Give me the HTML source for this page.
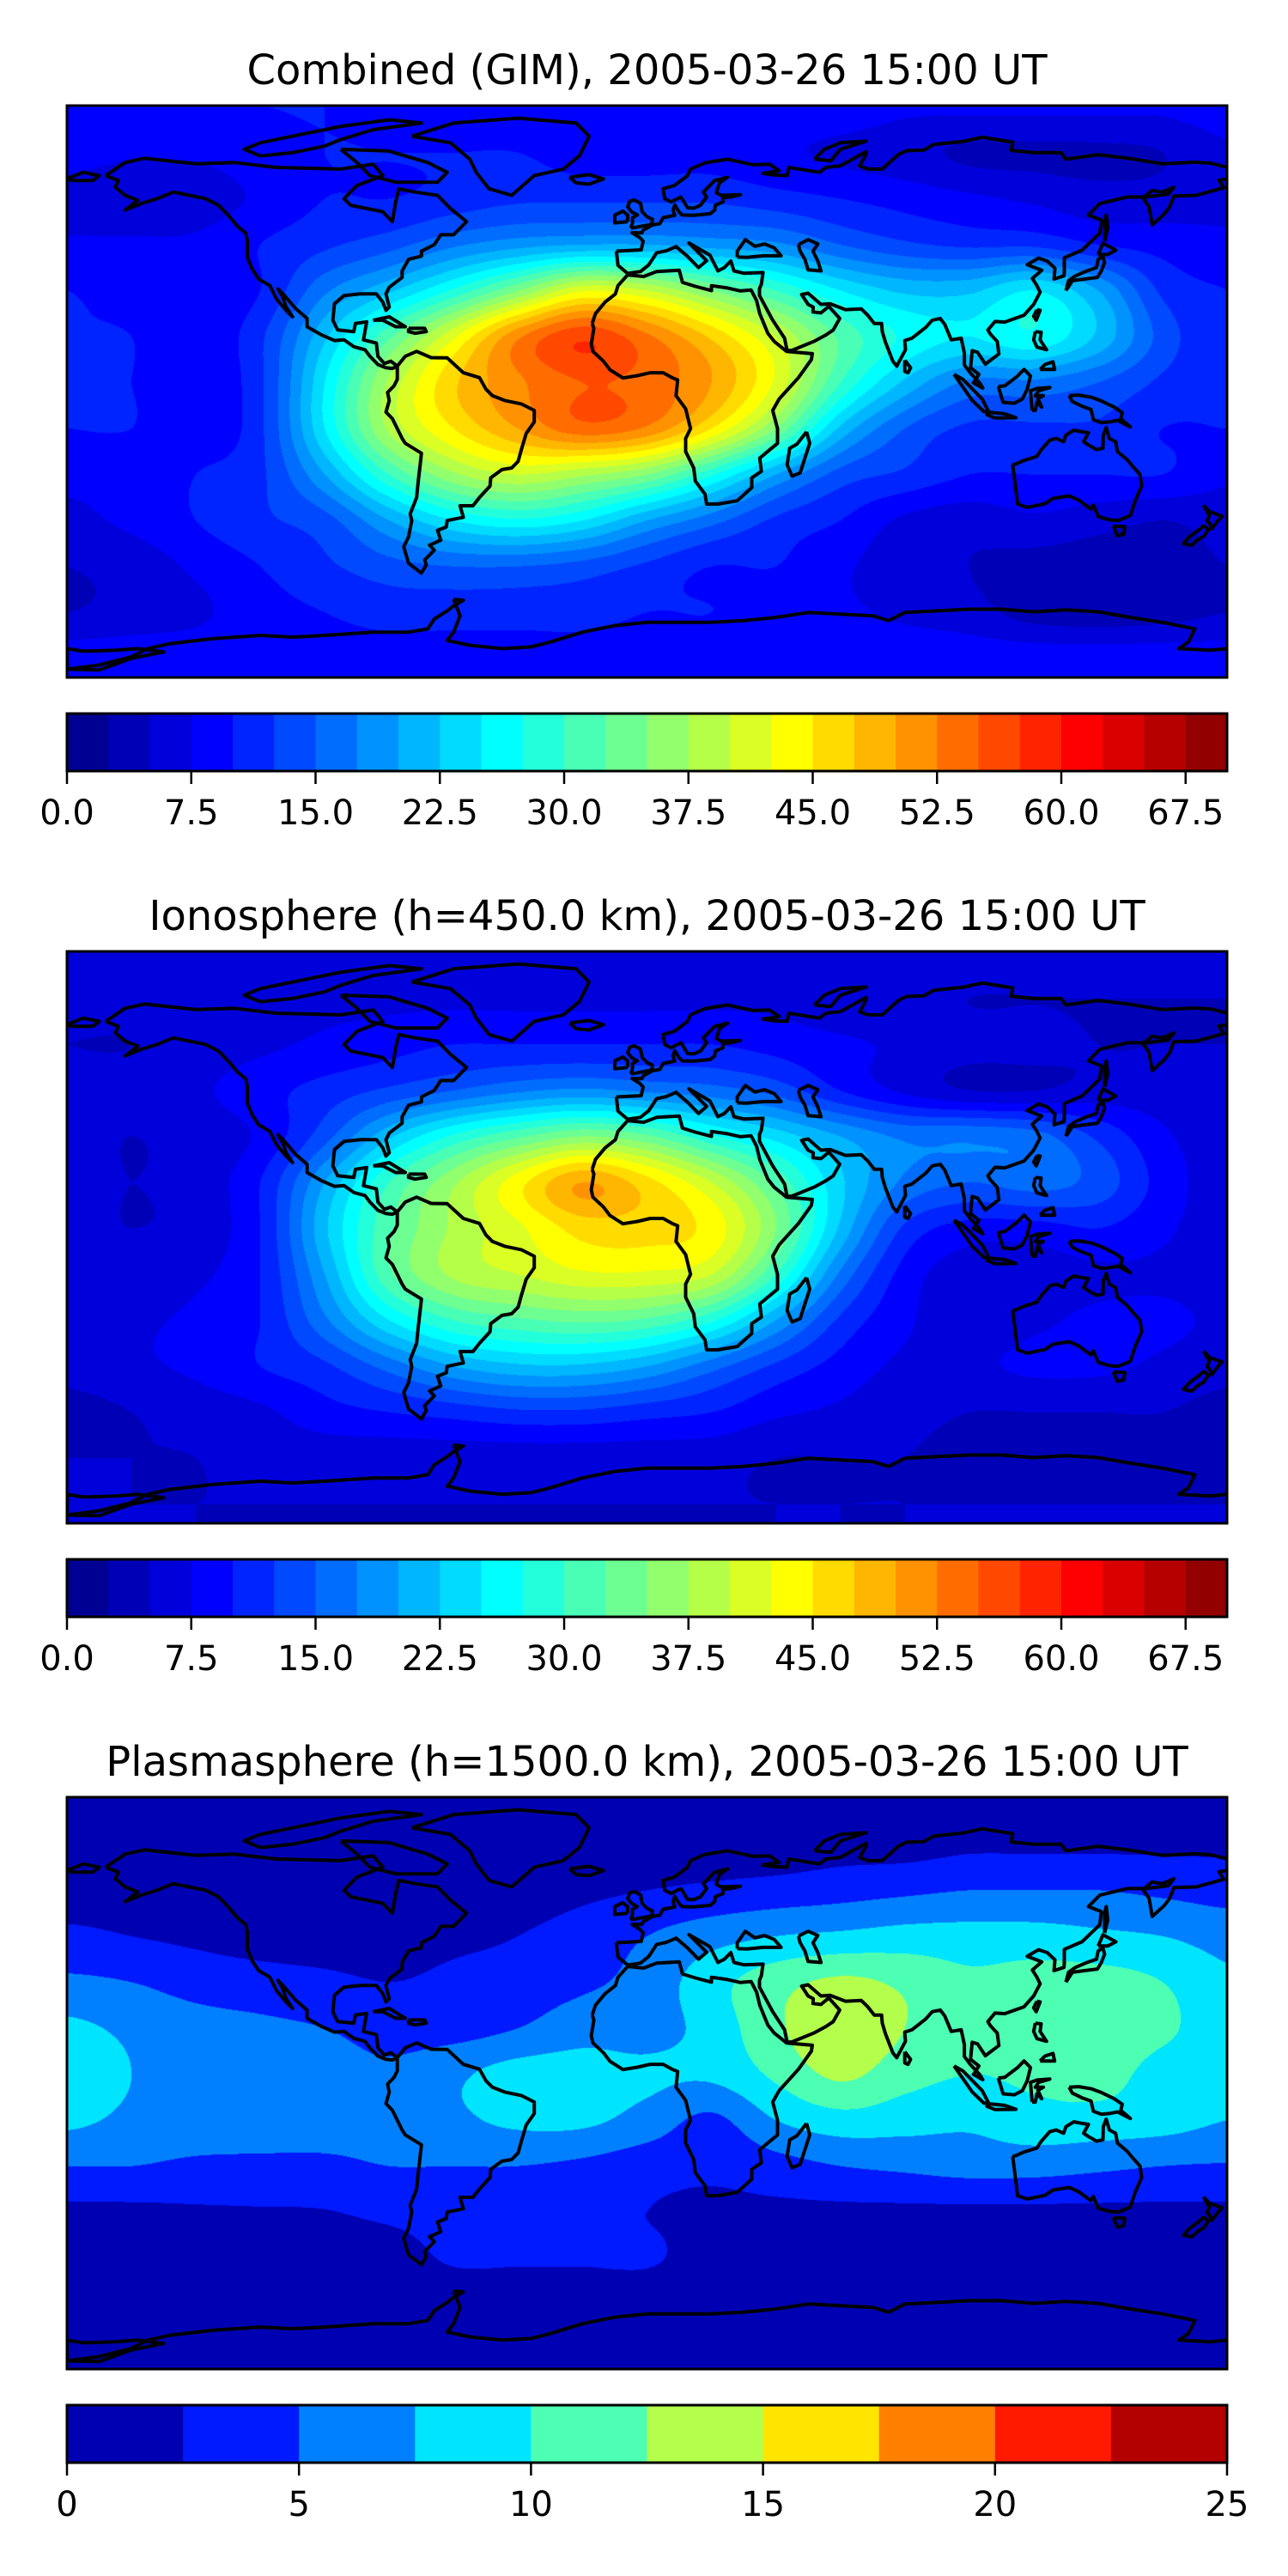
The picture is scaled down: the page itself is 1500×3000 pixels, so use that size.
<!DOCTYPE html>
<html><head><meta charset="utf-8"><title>GIM maps</title>
<style>
html,body{margin:0;padding:0;background:#fff;}
body{width:1500px;height:3000px;position:relative;overflow:hidden;font-family:"DejaVu Sans","Liberation Sans",sans-serif;}
canvas{position:absolute;left:78px;width:1351px;height:666px;}
svg{position:absolute;left:0;top:0;}
</style></head>
<body>
<canvas id="c0" width="1351" height="666" style="top:123px"></canvas>
<canvas id="c1" width="1351" height="666" style="top:1108px"></canvas>
<canvas id="c2" width="1351" height="666" style="top:2093px"></canvas>
<svg id="ov" width="1500" height="3000" viewBox="0 0 1500 3000"></svg>
<script>
// ---- data ----
const gridLons = [-180,-160,-140,-120,-100,-80,-60,-40,-20,0,20,40,60,80,100,120,140,160,180];
const gridLats = [87,73,59,45,31,17,3,-11,-25,-39,-53,-67,-81];
const titles = ["Combined (GIM), 2005-03-26 15:00 UT","Ionosphere  (h=450.0 km), 2005-03-26 15:00 UT","Plasmasphere (h=1500.0 km), 2005-03-26 15:00 UT"];
const combinedVals = [
[10,10,10,10,10,9,9,9,9,9,9,9,9,8,8,8,8,8,9],
[9,8,8,9,10,10,10,10,9,9,9,8,7,6,4.5,4.5,4.5,5,7],
[6,5,6,8,10,10,11,12,12,12,12,11,10,9,8,7,6,6,7],
[8,8,8,10,12,14,17,19,20,20,19,18,15,13,12,12,10,9,8],
[10,9,8,10,17,22,28,35,42,40,35,30,25,22,22,25,20,12,10],
[10,10,8,12,22,32,42,52,57,53,47,40,32,27,25,27,22,14,10],
[10,10,8,12,25,38,47,52,55,54,50,42,30,22,17,17,15,12,10],
[10,10,8,12,25,38,45,50,54,52,45,35,22,15,12,12,12,10,10],
[8,8,10,12,20,30,37,40,38,35,28,20,14,12,10,10,10,10,8],
[7,8,10,12,14,20,25,27,25,20,16,12,10,7,6,7,6,5,6],
[5,6,8,10,12,14,15,15,14,12,10,10,8,6,5,4,3.5,4,5],
[5,6,7,9,10,11,11,11,11,10,10,9,8,7,6,4,3.5,4,5],
[9,9,9,9,9,9,9,9,9,9,9,9,9,9,9,9,9,9,9]];
const ionoVals = [
[7,7,7,7,7,7,7,7,7,7,7,7,7,7,7,7,7,7,7],
[6,6,6,7,7,7,7,7,7,7,7,7,6,6,5,5,5,5,5],
[5,5,6,7,8,9,10,10,10,10,10,9,8,7,6,6,5,5,5],
[6,6,7,9,11,13,15,17,18,17,16,14,10,7,5,5,6,6,6],
[6,5,6,8,14,22,28,32,35,33,28,24,20,17,17,16,12,8,6],
[6,5,6,10,20,30,37,44,50,46,40,32,23,17,15,16,14,9,6],
[6,5,6,10,22,32,38,42,46,46,44,35,22,12,9,9,10,8,6],
[6,6,7,10,20,32,38,40,42,42,40,30,17,9,6,6,7,7,6],
[6,7,8,10,17,25,30,32,33,32,28,20,12,8,6,7,8,8,7],
[6,7,8,10,12,16,20,22,22,20,16,12,9,7,7,8,8,7,6],
[4,5,6,7,9,10,11,12,12,11,10,8,7,6,5,5,5,5,4],
[5,5,5,6,6,6,6,6,6,6,6,5,5,5,4,4,4,4,4],
[5,5,5,5,5,5,5,5,5,5,5,5,5,5,5,5,5,5,5]];
const plasmaVals = [
[1,1,1,1,1,1,1,1,1,1,1,1,1,1,1,1,1,1,1],
[1,1,1,1,1,1,1,1,1,1,1,1,1.5,1.5,2,2,2,2,2],
[1.5,1.5,1,1,1,1,1,1.5,2,2.5,3,3.5,4,4.5,5,5,5,4.5,4],
[3,2.5,2,1.5,1.5,1.5,2,2.5,3.5,5,6.5,7.5,8,8.5,8.5,8.5,8,7.5,6.5],
[5.5,5,4,3.5,3,2.5,3,3.5,4.5,6,9,11.5,13,12,10.5,11,11,10,8],
[8,7,6,5.5,5,4,4,5,6.5,6.5,8.5,12,14.5,12.5,10.5,11,11.5,10.5,8.5],
[8.5,7.5,6.5,6,6,5.5,7,8.5,8.5,8,8,10.5,13,11,10,10.5,11,9,8],
[8,7,6.5,6,6,6,7,8,8,6.5,4.5,7.5,9,8.5,8,9,9,8.5,7.5],
[5,5,4.5,4.5,4.5,5,5,5,4.5,3.5,3,4,5,5.5,6,6,5.5,5,4.8],
[2,2,2.2,2.3,2.4,3,3.5,3.5,3.5,2.5,2,2,2,2,2,2,2,2,2],
[1.5,1.5,1.5,1.5,1.5,1.5,2.8,2.8,2.8,2.8,1.5,1.5,1.5,1.5,1.5,1.5,1.5,1.5,1.5],
[1,1,1,1,1,1,1,1,1,1,1,1,1,1,1,1,1,1,1],
[1,1,1,1,1,1,1,1,1,1,1,1,1,1,1,1,1,1,1]];
const vmaxes = [70,70,25];
const levelStep = 2.5;
const tickVals = [[0,7.5,15,22.5,30,37.5,45,52.5,60,67.5],[0,7.5,15,22.5,30,37.5,45,52.5,60,67.5],[0,5,10,15,20,25]];
const tickLabels = [["0.0","7.5","15.0","22.5","30.0","37.5","45.0","52.5","60.0","67.5"],["0.0","7.5","15.0","22.5","30.0","37.5","45.0","52.5","60.0","67.5"],["0","5","10","15","20","25"]];

// ---- coastlines (lon,lat) ----
const coasts = [
[-168,66,-162,70,-156,71.3,-140,69.6,-128,70,-115,68.5,-95,68,-85,69.5,-82,66,-90,63,-94,59,-92,57,-82,55,-79,52,-78,58,-77,62,-72,61,-65,60,-61,56,-56,52,-60,48,-64,48,-66,45,-70,43,-70,41.5,-74,40.5,-76,37,-76,35,-80,32,-81,30,-80,26,-81,25,-82,27.5,-84,30,-89,30,-94,29.5,-97,27,-97.5,22,-96,19,-91,18.5,-90.5,21,-87,21.5,-88,16,-84,15,-83.5,11,-81.5,8.8,-79.5,9.5,-77.5,8,-79,7.3,-81,7.5,-83.5,8.5,-86,11,-87.5,13,-91,13.9,-94,16,-97,15.8,-101,17.5,-105.5,20,-105.5,22.5,-109,25.5,-112.5,29.5,-114.5,31.5,-113,29,-112,26,-110,23,-112,25,-115,28.5,-117,32.5,-120.5,34.5,-122.5,37.5,-124,41,-124,46,-124.5,48.5,-127,50.5,-130,54,-133,57,-137,59,-142,60,-147,61,-152,59,-157,57.5,-162,55.5,-158,58.5,-162,60,-165,62.5,-164,64.5,-168,66],
[-73,78,-60,82,-40,83.5,-22,82,-18,78,-21,72,-26,68,-35,66,-42,60,-49,62,-53,67,-55,71,-61,76,-73,78],
[-95,74,-80,73.5,-75,72,-68,70,-62,67,-65,64,-78,64,-86,66,-90,70,-95,74],
[-120,72,-110,73,-100,75,-95,77,-85,80,-70,82,-80,83,-95,81,-110,78,-120,76,-125,74,-120,72],
[-77.5,8,-75,11,-71.5,12.5,-67,10.6,-62,10.5,-57,6,-52,4.5,-50,1,-48,-1,-44,-2.5,-39,-3.5,-35,-5.5,-35,-9,-37.5,-12.5,-39,-17.5,-40,-21,-42,-23,-45,-23.5,-48.5,-26,-48.7,-28.5,-52,-32,-54,-34.5,-58,-34.5,-57,-38,-62,-39,-62.3,-41,-65,-42,-64,-45,-67.5,-46.5,-66,-48,-69,-51,-68.5,-52.5,-70,-55,-74,-52,-75.5,-47,-74,-44,-73,-39,-73.5,-37,-71.5,-32,-71,-27,-70.5,-23,-70,-18.5,-75,-15.5,-76,-14,-79,-8,-81,-6,-80,-2.5,-80.5,0,-78.5,2,-77.5,4,-77.5,8],
[-85,22,-80,23,-75,20,-78,20,-82,22,-85,22],
[-74,19.5,-69,19.5,-68.5,18.5,-72,18,-74,18.5,-74,19.5],
[-17,21,-16,24,-13,27.5,-9.8,30,-9,32.5,-6,35.8,-1,35.3,3,36.8,10,37.2,11,33.5,15,32.3,20,31,20,32.5,25,31.8,29,30.9,32.3,31.2,34,28,35,24,37.5,18,39.5,15.5,43.3,12.5,51.3,11.8,51,10,47,4.5,41,-2,39,-5.5,40.5,-11,40.5,-15.5,35,-20,35.5,-24,32.5,-26,32.5,-29,28,-33,22,-34,18.5,-34,18,-31,15,-27,14.5,-23,12,-18,12,-14,13.5,-11,12,-5,9,-1,9.5,3.8,8,4.4,5,6,1,6,-3,5.1,-7.5,4.4,-11.5,6.9,-13.5,9.5,-16.8,12.5,-17.3,14.7,-16.5,19.5,-17,21],
[49.5,-12,50.5,-15.5,47.5,-24.5,45,-25.5,43.5,-22,44.3,-17,46.5,-15.8,49.5,-12],
[-9.5,43,-9,38.7,-6,36.2,-2,36.8,0.5,38.8,3,42.5,6,43.1,9,44.4,12.5,41.5,16,38,18.5,40.1,13,45.5,19.5,41.8,22,37,24,38,26,40,27,37,30,36.3,36,36.5,35.5,33,34.9,31.6,34.9,29.5,39,22,42.7,16.5,43.5,12.7,45,12.8,52,15.6,55.5,17.5,57.8,19,59.8,22.5,56.4,26.2,54,24.2,51.5,24.5,51.6,26,50,26.8,48,29.8,50,30.2,54,26.8,56.8,27,61.6,25.2,66.5,25.4,68.5,23.5,70.5,21,72.8,21,73,18.5,74,15.3,76.3,9.5,77.5,8,80.2,13,80,15.8,82.2,16.5,86.5,19.8,88.5,22,91,22.5,92.4,20.7,94.4,16,97.5,16.5,98.5,12,98.5,8.4,100.3,6,103.3,2.8,104.2,1.3,101.3,2.9,103,5.5,100.4,7.5,100.9,12.7,102.6,12.2,105,8.6,109.2,11.7,108.7,15.5,106.6,17.7,105.8,19,108,21.6,111,21.4,117,23.5,120,26.8,122,30.5,121,32.5,119.6,34.7,122.5,37.2,118,38.9,121.5,40.9,124.2,40,126.6,37.8,126.3,34.5,129.4,35.5,129.5,36.8,129.5,41,135,43.3,140.5,48.5,141,52.5,137,54,140.5,57.5,149,59.5,155,59.5,161.8,60.4,163.5,62.5,160,61,156.7,61.5,154,59.2,155.8,56.5,156.8,51,160.5,54.3,162.2,56.5,163.5,59.8,170.5,60,179,62.3,177.5,64.6,180,65,180,68.5,175,69.8,170,70.1,160,69.6,150,71.2,140,72.4,130,71,128.5,73,120,73,113,73.7,113.5,76.2,104,77.7,98,76.4,89,75.5,86,73.8,80.5,73.6,78,72.4,73,68,68.5,68,66,69,68,72.5,68,73.3,60,69,55.5,68.5,53.5,67,44,68.5,43.5,66,39.5,66.2,36,66.7,41,67.5,38,69.5,33,69.3,25,71,18,69.9,13.5,68,12.5,65.9,8.5,63,5,62,5.5,59,7.5,58,10.5,59.5,11,58.8,12.6,56.2,14.5,56.1,16.6,57,18.5,59.5,17.5,61,21,64.5,25,65.5,22.5,63.8,21.5,60.8,23,60,29,60.2,26,59.5,23.5,59.3,23.6,58,21.2,57,21,55.5,19.6,54.4,14.5,53.9,10.9,54,10,54.9,8.6,57.1,8.1,55.5,8.6,53.9,5,53.2,4,51.4,1.7,51,-1.2,49.4,-1.6,48.6,-4.6,48.6,-2.2,47.1,-1.2,46,-1.8,43.4,-9.5,43],
[-180,65,-175,67,-170,66,-172,64.5,-178,64.5,-180,65],
[28,41.2,28,43,30.5,46.5,33.5,44.5,36.5,45.2,39.5,44,41.6,41.6,36,41.6,31,41.1,28,41.2],
[47,45,50,46.5,53,45.2,51.5,43,53,40,54,37,50,37.3,49,40.5,47.5,43,47,45],
[-5,50,1.5,51.2,1.7,52.7,0,53.5,-1.5,55,-2,57.6,-4,58.6,-5.3,58.2,-6,56.5,-4.8,55,-3,54,-4.5,53.2,-4.5,51.6,-5,50],
[-6,52,-6,54,-7.5,55.2,-10,54,-10,51.6,-6,52],
[-24,65.5,-18,66.3,-13.5,65,-18,63.4,-22,63.8,-24,65.5],
[52,71,57,70.5,60,74,68,76.5,60,76,55,74,52,71],
[130,31,132,34,135,34.4,139.8,35,141,37,142,39.5,141.5,41.4,140,40.5,139.5,38,136.5,37,133,35.5,130.8,34,130,31],
[140,42,141.5,45.4,145.5,43.3,143,42,140,42],
[142,46,143,50,142.5,54,142,52,142,46],
[95.3,5.5,98,4,104,-2,106,-5.8,104.5,-5.8,101,-2.5,95.3,5.5],
[105.5,-6,111,-6.5,114.5,-7.7,108,-7.8,105.5,-6.8,105.5,-6],
[109,1.8,110.5,-3,114,-3.3,116.5,-2,118,1,119,5,117,7,115,5,111,2,109,1.8],
[119.5,-5.5,119,0.5,121,1.2,125,1.5,121.5,0.5,120.5,-1,123,-1,121.3,-1.9,122.5,-4.5,121,-3,120.5,-5.5,119.5,-5.5],
[131,-1,134,-0.8,138,-1.5,141,-2.6,145,-4.5,147.5,-6.2,147,-8,150,-10.5,146,-8.5,143.5,-9,141,-9.2,138.5,-8.3,137.8,-5.2,135,-4.2,132,-2.8,131,-1],
[120.5,18.5,122.3,18.3,122,16,124,13,121,13.8,120,16,120.5,18.5],
[122,7,126.5,7,126,9.3,123.5,8.5,122,7],
[121,25.2,122,25,120.8,22,120,23.2,121,25.2],
[80,9.8,81.8,7.5,81,6,80,6.4,80,9.8],
[113.5,-22,114,-26,115,-34,118,-35,123.5,-33.9,126,-32.3,131,-31.5,134,-32.8,137.7,-35.5,138.5,-34.3,140,-37.8,143.5,-38.8,146.3,-39,150,-37.5,151.5,-33,153.5,-28.5,153,-25,150.8,-22.6,149,-20.5,146,-18,145.4,-15,143.5,-14,142.5,-10.7,141.6,-13,141.5,-17,139.5,-17.4,137,-16,135.5,-15,137,-12.3,135,-12,132.5,-11.5,130,-13,129.3,-15,127,-14,125,-14.5,122.3,-17.5,121,-19.5,117,-20.7,114.5,-21.8,113.5,-22],
[144.7,-40.7,148.3,-40.9,147.9,-43.2,146,-43.6,144.7,-40.7],
[172.7,-34.4,174.5,-36.3,178.5,-37.7,177,-39.3,175.2,-41.6,174.6,-39.8,173.8,-39.2,174.5,-37.5,172.7,-34.4],
[172.7,-40.5,174.2,-41.7,172.8,-43.8,171,-44.8,169,-46.6,166.5,-46,168.3,-44,171.5,-41.7,172.7,-40.5],
[-180,-84.3,-170,-84.5,-160,-81,-150,-79,-158,-78,-165,-78.5,-175,-78.8,-180,-78,-180,-84.3],
[-60,-63,-57,-63.3,-60,-65,-62,-66.5,-66,-69,-68,-72,-74,-73,-85,-73,-100,-74,-110,-74.5,-120,-74,-135,-75,-148,-76.5,-155,-78,-160,-80.5,-170,-83,-180,-84.3],
[-60,-63,-58,-68,-60,-73,-62,-75.5,-55,-77,-45,-78,-36,-77.5,-30,-76,-20,-73,-10,-71,0,-70,10,-70,20,-70,30,-69.5,40,-68.5,50,-67,60,-67.5,70,-68,75,-69.5,80,-67,90,-66.5,100,-66,110,-66,120,-66.8,130,-66.2,140,-66.8,150,-68.5,160,-70,165,-71,170,-72,168,-76,165,-78,175,-78.5,180,-78]
];
// ---- helpers ----
const MAPX = 78, MAPW = 1351, MAPH = 666, LAT0Y = 334, PXDEG_Y = 3.825;
const panelTops = [123,1108,2093];
function lonToX(lon){return MAPX + (lon+180)/360*MAPW;}
function latToY(lat,top){return top + LAT0Y - lat*PXDEG_Y;}
function jet(x){
  const c = t => Math.max(0,Math.min(1,t));
  return [c(1.5-Math.abs(4*x-3)),c(1.5-Math.abs(4*x-2)),c(1.5-Math.abs(4*x-1))].map(v=>Math.round(v*255));
}
function cr(p0,p1,p2,p3,t){return 0.5*((2*p1)+(-p0+p2)*t+(2*p0-5*p1+4*p2-p3)*t*t+(-p0+3*p1-3*p2+p3)*t*t*t);}
function sample(g,gx,gy){
  const nr=g.length, nc=g[0].length;
  const ix=Math.floor(gx), iy=Math.floor(gy), tx=gx-ix, ty=gy-iy;
  const rows=[];
  for(let j=-1;j<=2;j++){
    const r=g[Math.max(0,Math.min(nr-1,iy+j))];
    const v=k=>r[Math.max(0,Math.min(nc-1,ix+k))];
    rows.push(cr(v(-1),v(0),v(1),v(2),tx));
  }
  return cr(rows[0],rows[1],rows[2],rows[3],ty);
}
const NS='http://www.w3.org/2000/svg';
const ov=document.getElementById('ov');
function mk(tag,attrs,parent){const e=document.createElementNS(NS,tag);for(const k in attrs)e.setAttribute(k,attrs[k]);(parent||ov).appendChild(e);return e;}
const fields=[combinedVals,ionoVals,plasmaVals];
const defs=mk('defs',{});
const lonStep = gridLons[1]-gridLons[0], latStep = gridLats[0]-gridLats[1];
for(let p=0;p<3;p++){
  const top=panelTops[p], vmax=vmaxes[p], nb=Math.round(vmax/levelStep), g=fields[p];
  const cv=document.getElementById('c'+p), ctx=cv.getContext('2d');
  const img=ctx.createImageData(MAPW,MAPH);
  const pal=[];for(let b=0;b<nb;b++)pal.push(jet((b+0.5)/nb));
  for(let py=0;py<MAPH;py++){
    const lat=(LAT0Y-py-0.5)/PXDEG_Y;
    const gy=(gridLats[0]-lat)/latStep;
    for(let px=0;px<MAPW;px++){
      const lon=-180+(px+0.5)/MAPW*360;
      const gx=(lon-gridLons[0])/lonStep;
      let b=Math.floor(sample(g,gx,gy)/levelStep);
      b=Math.max(0,Math.min(nb-1,b));
      const c=pal[b], i=(py*MAPW+px)*4;
      img.data[i]=c[0];img.data[i+1]=c[1];img.data[i+2]=c[2];img.data[i+3]=255;
    }
  }
  ctx.putImageData(img,0,0);
  const t=mk('text',{x:753.5,y:top-25,'text-anchor':'middle','font-size':48,'font-family':'DejaVu Sans, Liberation Sans, sans-serif',fill:'#000'});
  
  
  t.textContent=titles[p];
  const cp=mk('clipPath',{id:'clip'+p},defs);
  mk('rect',{x:MAPX,y:top,width:MAPW,height:MAPH},cp);
  const cg=mk('g',{'clip-path':'url(#clip'+p+')',fill:'none',stroke:'#000','stroke-width':4,'stroke-linejoin':'round'});
  
  
  coasts.forEach(arr=>{
    let d='';
    for(let i=0;i<arr.length;i+=2)d+=(i?'L':'M')+lonToX(arr[i]).toFixed(1)+' '+latToY(arr[i+1],top).toFixed(1);
    mk('path',{d:d},cg);
  });
  const fr=mk('rect',{x:MAPX,y:top,width:MAPW,height:MAPH,fill:'none',stroke:'#000','stroke-width':3});
  
  
  const cbTop=top+708, cbH=67;
  const cb=mk('g',{});
  
  
  for(let b=0;b<nb;b++){
    const x0=MAPX+b*levelStep/vmax*MAPW, x1=MAPX+(b+1)*levelStep/vmax*MAPW;
    const c=pal[b];
    const r=mk('rect',{x:x0.toFixed(2),y:cbTop,width:(x1-x0+0.6).toFixed(2),height:cbH,fill:'rgb('+c.join(',')+')'},cb);
    
    
  }
  mk('rect',{x:MAPX,y:cbTop,width:MAPW,height:cbH,fill:'none',stroke:'#000','stroke-width':3},cb);
  tickVals[p].forEach((v,i)=>{
    const x=MAPX+v/vmax*MAPW;
    mk('line',{x1:x,x2:x,y1:cbTop+cbH,y2:cbTop+cbH+15,stroke:'#000','stroke-width':2.5},cb);
    const tl=mk('text',{x:x,y:top+837,'text-anchor':'middle','font-size':40,'font-family':'DejaVu Sans, Liberation Sans, sans-serif',fill:'#000'},cb);
    
    
    tl.textContent=tickLabels[p][i];
  });
}
</script>
</body></html>
